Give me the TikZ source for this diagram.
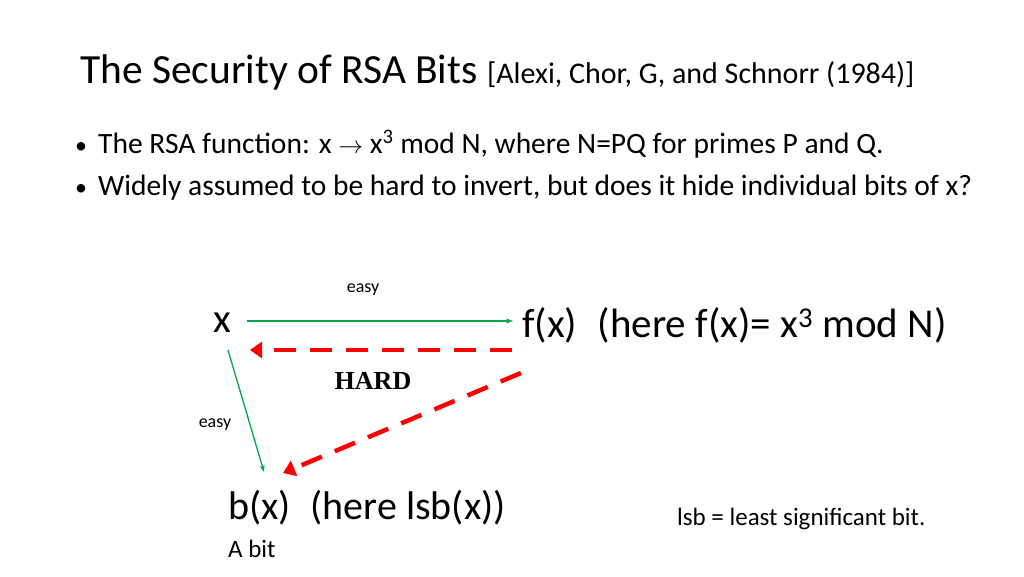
\documentclass[tikz,border=0pt]{standalone}
\usepackage{fontspec}
\setmainfont{Carlito}
\newfontfamily\serifhard{Liberation Serif}
\usetikzlibrary{arrows.meta}
\tikzset{
  txt/.style={inner sep=0pt, anchor=base west, text=black},
  green/.style={draw={rgb,255:red,0;green,166;blue,81}, line width=1.3pt, -{Stealth[length=7pt,width=5pt]}},
  hard/.style={draw={rgb,255:red,255;green,0;blue,0}, line width=4.5pt, dash pattern=on 22pt off 14pt, -{Triangle[length=12pt,width=16pt]}},
}
\begin{document}
\begin{tikzpicture}[x=1pt,y=-1pt]
\useasboundingbox (0,0) rectangle (1024,576);
\node[txt] (title) at (80,83) {\fontsize{41.5}{46}\selectfont The Security of RSA Bits \fontsize{30}{34}\selectfont[Alexi, Chor, G, and Schnorr (1984)]};
\node[txt] (d1) at (75,153) {\fontsize{24}{28}\selectfont •};
\node[txt] (b1) at (98,153) {\fontsize{29.5}{34}\selectfont The RSA function: x $\rightarrow$ x\textsuperscript{3} mod N, where N=PQ for primes P and Q.};
\node[txt] (d2) at (75,195) {\fontsize{24}{28}\selectfont •};
\node[txt] (b2) at (98,195) {\fontsize{29.5}{34}\selectfont Widely assumed to be hard to invert, but does it hide individual bits of x?};
\node[inner sep=0pt] (x) at (222,323) {\fontsize{41}{46}\selectfont x};
\node[txt] (fx) at (522,337) {\fontsize{41}{46}\selectfont f(x)\hspace{0.5em}(here f(x)= x\textsuperscript{3} mod N)};
\node[txt] (bx) at (228,519) {\fontsize{40}{46}\selectfont b(x)\hspace{0.5em}(here lsb(x))};
\node[txt] (abit) at (228,557) {\fontsize{25}{28}\selectfont A bit};
\node[txt] (lsb) at (677,525) {\fontsize{25}{28}\selectfont lsb = least significant bit.};
\node[inner sep=0pt] (e1) at (363,290) {\fontsize{18}{20}\selectfont easy};
\node[inner sep=0pt] (e2) at (215,425) {\fontsize{18}{20}\selectfont easy};
\node[inner sep=0pt] (hardt) at (373,381) {\fontsize{26}{30}\selectfont\serifhard\bfseries HARD};
\coordinate (g1s) at (247,321); \coordinate (g1e) at (513,321);
\coordinate (g2s) at (228,350); \coordinate (g2e) at (264,472);
\coordinate (r1s) at (512,350); \coordinate (r1e) at (250,350);
\coordinate (r2s) at (521,373); \coordinate (r2e) at (283,473);
\draw[green] (g1s) -- (g1e);
\draw[green] (g2s) -- (g2e);
\draw[hard] (r1s) -- (r1e);
\draw[hard] (r2s) -- (r2e);
\end{tikzpicture}
\end{document}
